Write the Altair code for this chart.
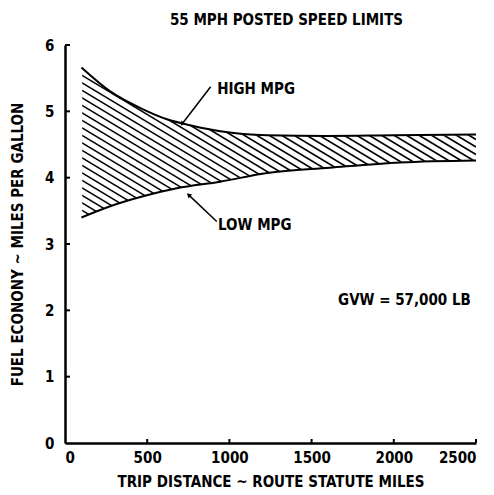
import altair as alt
import pandas as pd
import numpy as np

# ---- data ----
high_x = [100, 275, 475, 620, 780, 945, 1230, 1600, 2000, 2500]
high_y = [5.66, 5.30, 5.03, 4.88, 4.78, 4.70, 4.64, 4.63, 4.64, 4.65]
low_x = [100, 275, 475, 680, 945, 1230, 1610, 2040, 2500]
low_y = [3.40, 3.57, 3.72, 3.84, 3.94, 4.07, 4.15, 4.23, 4.26]

x_ticks = [0, 500, 1000, 1500, 2000, 2500]
y_ticks = [0, 1, 2, 3, 4, 5, 6]

title_text = "55 MPH POSTED SPEED LIMITS"
x_title = "TRIP DISTANCE  ~  ROUTE STATUTE MILES"
y_title = "FUEL ECONONY ~ MILES PER GALLON"

labels_text = ["HIGH MPG", "LOW MPG", "GVW = 57,000 LB"]
labels_x = [926, 931, 1661]
labels_y = [5.34, 3.29, 2.15]

# leader lines (text end -> curve end)
lead_x = [886, 923]
lead_y = [5.37, 3.34]
lead_x2 = [712, 752]
lead_y2 = [4.81, 3.74]
arrow_angle = [218, 313]

# hatch style (slope in data units per mile, spacing in data units)
HATCH_SLOPE = 0.001488
HATCH_STEP = 0.113

W, H = 411, 398
FONT = "Liberation Sans Narrow, DejaVu Sans Condensed, Arial Narrow, sans-serif"

xs = alt.Scale(domain=[0, 2500], nice=False, zero=False)
ys = alt.Scale(domain=[0, 6], nice=False, zero=False)

high_df = pd.DataFrame({"x": high_x, "y": high_y, "top": [6] * len(high_x)})
low_df = pd.DataFrame({"x": low_x, "y": low_y, "bot": [0] * len(low_x)})

c_vals = np.arange(low_y[0] + HATCH_SLOPE * high_x[0], high_y[-1] + HATCH_SLOPE * 2500 + HATCH_STEP, HATCH_STEP)
hatch_df = pd.DataFrame({
    "x0": [0] * len(c_vals),
    "x1": [2500] * len(c_vals),
    "y0": c_vals,
    "y1": c_vals - HATCH_SLOPE * 2500,
})

left_df = pd.DataFrame({"x0": [0], "x1": [high_x[0]], "y0": [0], "y1": [6]})

X = lambda f, **k: alt.X(f, type="quantitative", scale=xs, **k)
Y = lambda f, **k: alt.Y(f, type="quantitative", scale=ys, **k)

x_axis = alt.Axis(values=x_ticks, title=x_title, tickSize=0, labelPadding=7, domain=True,
                  domainColor="black", domainWidth=2.5, zindex=2,
                  titlePadding=9, grid=False, format="d")
y_axis = alt.Axis(values=y_ticks, title=y_title, tickSize=0, labelPadding=11, domain=True,
                  domainColor="black", domainWidth=2.5, zindex=2,
                  titlePadding=19, grid=False, format="d")

hatch = alt.Chart(hatch_df).mark_rule(color="black", strokeWidth=1.6, clip=True).encode(
    x=X("x0", axis=x_axis), x2="x1", y=Y("y0", axis=y_axis), y2="y1")

mask_top = alt.Chart(high_df).mark_area(color="white", stroke="white", strokeWidth=1,
                                        interpolate="monotone", clip=True).encode(
    x=X("x"), y=Y("y"), y2="top")
mask_bot = alt.Chart(low_df).mark_area(color="white", stroke="white", strokeWidth=1,
                                       interpolate="monotone", clip=True).encode(
    x=X("x"), y=Y("y"), y2="bot")
mask_left = alt.Chart(left_df).mark_rect(color="white", stroke="white", strokeWidth=1.5).encode(
    x=X("x0"), x2="x1", y=Y("y0"), y2="y1")

line_high = alt.Chart(high_df).mark_line(color="black", strokeWidth=2, interpolate="monotone").encode(
    x=X("x"), y=Y("y"))
line_low = alt.Chart(low_df).mark_line(color="black", strokeWidth=2, interpolate="monotone").encode(
    x=X("x"), y=Y("y"))

lead_df = pd.DataFrame({"x": lead_x, "y": lead_y, "x2": lead_x2, "y2": lead_y2, "ang": arrow_angle})
leaders = alt.Chart(lead_df).mark_rule(color="black", strokeWidth=1.5).encode(
    x=X("x"), y=Y("y"), x2="x2", y2="y2")
heads = alt.Chart(lead_df).mark_point(shape="triangle-up", filled=True, color="black", size=28, opacity=1).encode(
    x=X("x2"), y=Y("y2"), angle=alt.Angle("ang:Q", scale=None))

lab_df = pd.DataFrame({"t": labels_text, "x": labels_x, "y": labels_y})
texts = alt.Chart(lab_df).mark_text(align="left", baseline="middle", font=FONT, fontSize=15,
                                    fontWeight="bold", color="black").encode(
    x=X("x"), y=Y("y"), text="t")

xt_df = pd.DataFrame({"x": x_ticks[1:]})
yt_df = pd.DataFrame({"y": y_ticks[1:]})
xticks = alt.Chart(xt_df).mark_rule(color="black", strokeWidth=2).encode(
    x=X("x"), y=alt.value(H - 4), y2=alt.value(H))
yticks = alt.Chart(yt_df).mark_rule(color="black", strokeWidth=2).encode(
    y=Y("y"), x=alt.value(0), x2=alt.value(5))

chart = alt.layer(
    hatch, mask_top, mask_bot, mask_left, line_high, line_low, leaders, heads, texts, xticks, yticks
).properties(
    width=W, height=H,
    background="white",
    autosize=alt.AutoSizeParams(type="none"),
    padding={"left": 57, "top": 37, "right": 10, "bottom": 52},
    title=alt.TitleParams(title_text, font=FONT, fontSize=15, fontWeight="bold", color="black",
                          anchor="middle", dx=16, offset=10),
).configure_view(strokeWidth=0).configure_axis(
    labelColor="black", titleColor="black",
    labelFont=FONT, titleFont=FONT, labelFontSize=15, titleFontSize=15,
    labelFontWeight="bold", titleFontWeight="bold",
)

chart.save("out.html", embed_options={"renderer": "svg", "actions": False})
